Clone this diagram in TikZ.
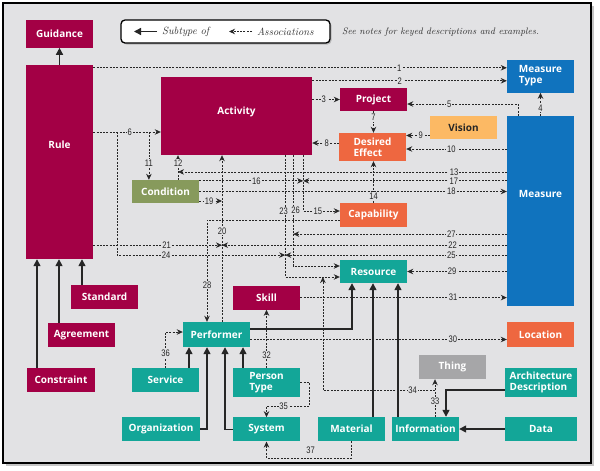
\documentclass[tikz,border=0pt]{standalone}
\usepackage{fontspec}
\setsansfont{Open Sans}
\newfontfamily\numfont[FakeStretch=0.8]{Liberation Sans}
\usetikzlibrary{positioning}
\usetikzlibrary{arrows.meta}
\usetikzlibrary{shadows}

\definecolor{bg}{RGB}{226,226,228}
\definecolor{dmred}{RGB}{163,0,69}
\definecolor{dmteal}{RGB}{19,166,152}
\definecolor{dmblue}{RGB}{16,115,190}
\definecolor{dmorange}{RGB}{238,103,64}
\definecolor{dmyellow}{RGB}{252,185,100}
\definecolor{dmolive}{RGB}{135,154,92}
\definecolor{dmgrey}{RGB}{166,166,168}

\tikzset{
        box/.style={align=center,inner sep=0pt,text=white,font=\sffamily\bfseries\fontsize{10}{11}\selectfont,minimum width=67,minimum height=24},
        % Rules, guidance and activities
        box_rule/.style={box, fill=dmred},
        % Resources and performers
        box_res/.style={box, fill=dmteal},
        % Measures
        box_meas/.style={box, fill=dmblue},
        % Effects, capabilities and locations
        box_eff/.style={box, fill=dmorange},
        % Vision
        box_vis/.style={box, fill=dmyellow, text=black!85},
        % Conditions
        box_cond/.style={box, fill=dmolive},
        % Things
        box_thing/.style={box, fill=dmgrey},
        % Text pushed above the centre
        box_up/.style={text depth=#1},
        % Subtype connectors
        line_sub/.style={draw=black!85, line width=1.4pt, -{Triangle[length=7pt,width=7pt]}},
        % Association connectors
        line_assoc/.style={draw=black!85, line width=0.75pt, dash pattern=on 2pt off 1.3pt, -{Stealth[length=6pt,width=5.5pt]}},
        % Association numbers
        line_num/.style={fill=bg, inner sep=0.8pt, text=black!85, font=\numfont\fontsize{9.5}{9.5}\selectfont},
        % Legend texts
        note/.style={anchor=west, inner sep=0pt, text=black!80, font=\itshape\fontsize{10.5}{12}\selectfont}
}

\begin{document}
\begin{tikzpicture}[x=1pt, y=-1pt]
\useasboundingbox (0,0) rectangle (600,471);
\draw[line width=1.6pt, fill=bg, drop shadow={shadow xshift=3pt, shadow yshift=-3pt, fill=black!45}] (3,3) rectangle (591,463);

% legend
\node[draw=black, line width=1.3pt, rounded corners=4pt, fill=white, minimum width=209, minimum height=23, inner sep=0pt, drop shadow={shadow xshift=1.5pt, shadow yshift=-1.5pt, fill=black!45}] (legend) at (225.5,31.5) {};
\node[note] (legend_sub) at (162,31.5) {Subtype of};
\node[note] (legend_assoc) at (257,31.5) {Associations};
\draw[line_sub] ([xshift=-5]legend_sub.west) -- ++(-23,0);
\draw[line_assoc] ([xshift=-5]legend_assoc.west) -- ++(-23,0);
\node[note, font=\itshape\fontsize{9.4}{11}\selectfont] (notes) at (342,32) {See notes for keyed descriptions and examples.};

% rules
\node[box_rule, minimum height=194, box_up=34pt] (rule) at (59.5,162) {Rule};
\node[box_rule, minimum height=28, above=17pt of rule] (guidance) {Guidance};
\node[box_rule] (standard) at (104.5,297) {Standard};
\node[box_rule] (agreement) at (81.5,335) {Agreement};
\node[box_rule, minimum width=68] (constraint) at (61,380) {Constraint};

% activities and effects
\node[box_rule, minimum width=151, minimum height=78, box_up=10pt] (activity) at (236.5,116) {Activity};
\node[box_rule, minimum height=23] (project) at (373.5,99.5) {Project};
\node[box_eff, minimum height=28, align=left] (effect) at (372.5,147) {Desired\\Effect};
\node[box_vis, minimum height=23] (vision) at (463.5,127.5) {Vision};
\node[box_meas, minimum height=190, box_up=34pt] (measure) at (540.5,211) {Measure};
\node[box_meas, minimum height=33, align=left, above=23pt of measure] (mtype) {Measure\\Type};
\node[box_cond, minimum height=23] (condition) at (165.5,191.5) {Condition};
\node[box_eff] (capability) at (373.5,215) {Capability};

% resources
\node[box_res, minimum height=23] (resource) at (373.5,271.5) {Resource};
\node[box_res, minimum height=25] (performer) at (216.5,334.5) {Performer};
\node[box_eff, minimum height=25] (location) at (540.5,334.5) {Location};
\node[box_res] (service) at (165.5,380) {Service};
\node[box_res, minimum height=29, align=left] (persontype) at (266.5,382.5) {Person\\Type};
\node[box_rule, above=58pt of persontype] (skill) {Skill};
\node[box_thing] (thing) at (452.5,367) {Thing};
\node[box_res, minimum width=72, minimum height=29, align=left] (archdesc) at (541,382.5) {Architecture\\Description};
\node[box_res, minimum width=78] (organization) at (161,429) {Organization};
\node[box_res, below=20pt of persontype] (system) {System};
\node[box_res] (material) at (351.5,429) {Material};
\node[box_res] (information) at (425.5,429) {Information};
\node[box_res, minimum width=72] (data) at (541,429) {Data};

% subtypes
\draw[line_sub] (rule) -- (guidance);
\draw[line_sub] ([xshift=-22.5]standard.north) -- ([xshift=-22.5]standard.north |- rule.south);
\draw[line_sub] ([xshift=-22.5]agreement.north) -- ([xshift=-22.5]agreement.north |- rule.south);
\draw[line_sub] ([xshift=-24]constraint.north) -- ([xshift=-24]constraint.north |- rule.south);
\draw[line_sub] ([xshift=23.5]service.north) -- ([xshift=23.5]service.north |- performer.south);
\draw[line_sub] (organization.east) -| ([xshift=-9.5]performer.south);
\draw[line_sub] (system.west) -| ([xshift=8.5]performer.south);
\draw[line_sub] ([xshift=-23.5]persontype.north) -- ([xshift=-23.5]persontype.north |- performer.south);
\draw[line_sub] ([yshift=5.5]performer.east) -| ([xshift=-21.5]resource.south);
\draw[line_sub] ([xshift=21.5]material.north) -- ([xshift=21.5]material.north |- resource.south);
\draw[line_sub] ([xshift=-27.5]information.north) -- ([xshift=-27.5]information.north |- resource.south);
\draw[line_sub] ([yshift=-7.5]archdesc.west) -| ([xshift=20.5]information.north);
\draw[line_sub] (data) -- (information);

% associations
\draw[line_assoc] ([yshift=-3]rule.north east) -- ([yshift=-3]rule.north east -| mtype.west) node[line_num, pos=0.74] {1};
\draw[line_assoc] ([yshift=-4]activity.north east) -- ([yshift=-4]activity.north east -| mtype.west) node[line_num, pos=0.45] {2};
\draw[line_assoc] (activity.east |- project.west) -- (project.west) node[line_num, pos=0.42] {3};
\draw[line_assoc] (measure) -- (mtype) node[line_num, pos=0.35] {4};
\draw[line_assoc] ([xshift=-22.5]measure.north) |- ([yshift=-4.5]project.east) node[line_num, pos=0.81] {5};
\draw[line_assoc] ([yshift=30]rule.east) -- ([yshift=30]rule.east -| activity.west) node[line_num, pos=0.54] {6} coordinate[pos=0.353] (sixa) coordinate[pos=0.824] (sixb);
\draw[line_assoc] (project) -- (project |- effect.north) node[line_num, pos=0.3] {7};
\draw[line_assoc] ([yshift=4]effect.west) -- ([yshift=4]effect.west -| activity.east) node[line_num, pos=0.45] {8};
\draw[line_assoc] ([yshift=-8]vision.west) -- ([yshift=-8]vision.west -| effect.east) node[line_num, pos=0.38] {9};
\draw[line_assoc] ([yshift=-2]effect.east -| measure.west) -- ([yshift=-2]effect.east) node[line_num, pos=0.55] {10};
\draw[line_assoc] (sixb) -- (sixb |- condition.north) node[line_num, pos=0.65] {11};
\draw[line_assoc] ([xshift=12.5]condition.north) -- ([xshift=12.5]condition.north |- activity.south) node[line_num, pos=0.68] {12} coordinate[pos=0.32] (twelve);
\draw[line_assoc] (twelve -| measure.west) -- (twelve) node[line_num, pos=0.16] {13};
\draw[line_assoc] (capability) -- (capability |- effect.south) node[line_num, pos=0.15] {14};
\draw[line_assoc] ([xshift=-9]activity.south east) |- ([yshift=4]capability.west) node[line_num, pos=0.7] {15} coordinate[pos=0.23] (fifteen);
\draw[line_assoc] (fifteen -| condition.east) -- (fifteen) node[line_num, pos=0.55] {16};
\draw[line_assoc] (fifteen -| measure.west) -- (fifteen) node[line_num, pos=0.26] {17};
\draw[line_assoc] (condition.east) -- (condition.east -| measure.west) node[line_num, pos=0.82] {18};
\draw[line_assoc] ([xshift=5.5]performer.north) -- ([xshift=5.5]performer.north |- activity.south) node[line_num, pos=0.545] {20} coordinate[pos=0.725] (twenty) coordinate[pos=0.46] (twentyb);
\draw[line_assoc] (twenty -| condition.east) -- (twenty) node[line_num, pos=0.43] {19};
\draw[line_assoc] (twentyb -| rule.east) -- (twentyb) node[line_num, pos=0.57] {21};
\draw[line_assoc] (twentyb -| measure.west) -- (twentyb) node[line_num, pos=0.19] {22};
\draw[line_assoc] ([xshift=-27]activity.south east) |- ([yshift=-5.5]resource.west) node[line_num, pos=0.23, xshift=-1.5] {23} coordinate[pos=0.41] (twentythree) coordinate[pos=0.845] (twentythreeb);
\draw[line_assoc] (sixa) |- (twentythree) node[line_num, pos=0.646] {24};
\draw[line_assoc] (twentythree -| measure.west) -- (twentythree) node[line_num, pos=0.25] {25};
\draw[line_assoc] ([xshift=-19]activity.south east) |- ([yshift=5.5]resource.west) node[line_num, pos=0.25, xshift=2.5] {26} coordinate[pos=0.356] (twentysix);
\draw[line_assoc] (twentysix -| measure.west) -- (twentysix) node[line_num, pos=0.26] {27};
\draw[line_assoc] ([yshift=-5]capability.west) -| ([xshift=-9.5]performer.north) node[line_num, pos=0.82] {28};
\draw[line_assoc] (resource.east -| measure.west) -- (resource.east) node[line_num, pos=0.55] {29};
\draw[line_assoc] ([yshift=-5]performer.east) -- ([yshift=-5]performer.east -| location.west) node[line_num, pos=0.79] {30};
\draw[line_assoc] (skill.east) -- (skill.east -| measure.west) node[line_num, pos=0.74] {31};
\draw[line_assoc] (persontype) -- (skill) node[line_num, pos=0.22] {32};
\draw[line_assoc] ([xshift=9.5]information.north) -- ([xshift=9.5]information.north |- thing.south) node[line_num, pos=0.42] {33} coordinate[pos=0.71] (thirtythree);
\draw[line_assoc] (thirtythree) -| (twentythreeb) node[line_num, pos=0.1] {34};
\draw[line_assoc] (persontype.east) -- ++(9,0) |- ([yshift=11]system.north) node[line_num, pos=0.8] {35} -- (system.north);
\draw[line_assoc] (service.north) |- ([yshift=2.5]performer.west) node[line_num, pos=0.2] {36};
\draw[line_assoc] (material.south) -- ++(0,17) -| (system.south) node[line_num, fill=none, above=3pt, pos=0.24] {37};
\end{tikzpicture}
\end{document}
